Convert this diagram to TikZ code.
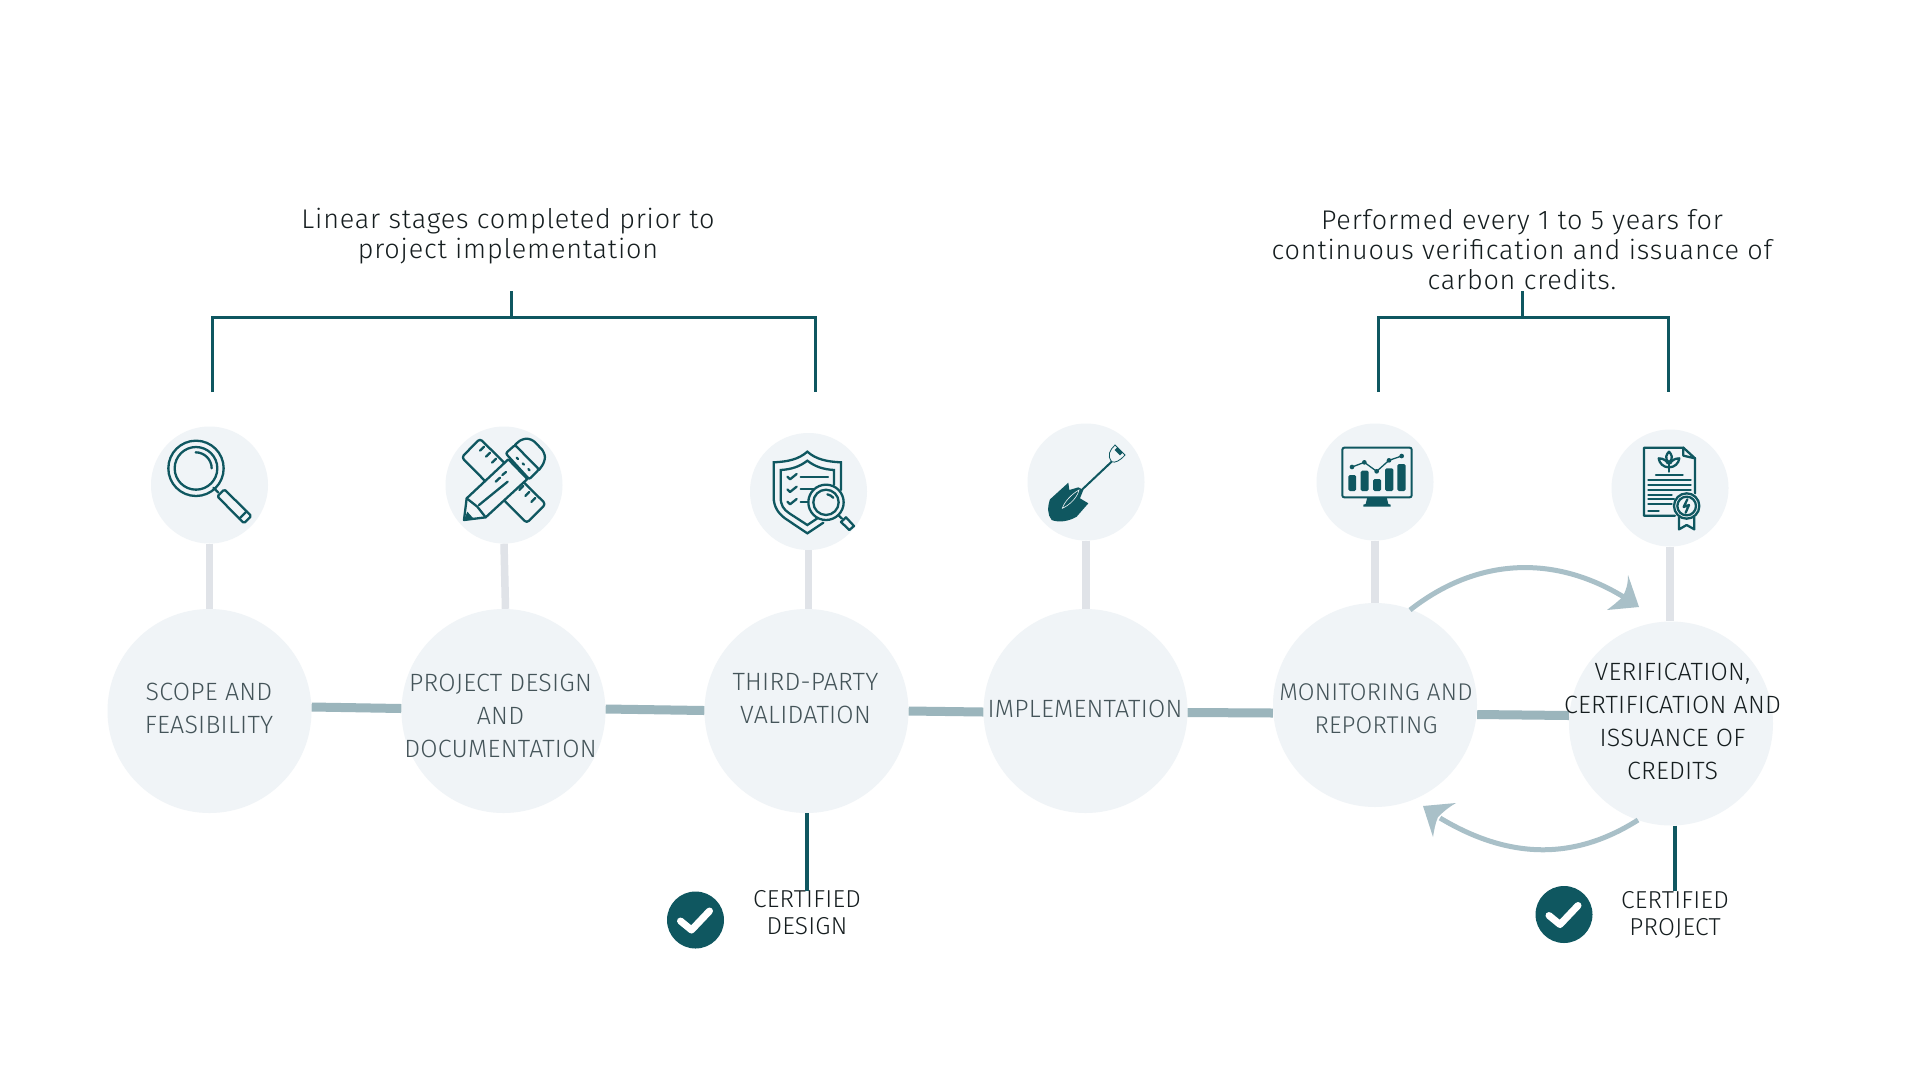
\documentclass[tikz,border=0pt]{standalone}
\usepackage{fontspec}
\setmainfont[UprightFont=* Light,LetterSpace=3]{Fira Sans}
\newfontfamily\capsf[UprightFont=* Light,LetterSpace=1]{Fira Sans}
\usetikzlibrary{calc}
\definecolor{teal}{HTML}{0F5760}
\definecolor{bgc}{HTML}{F0F4F7}
\definecolor{stemc}{HTML}{E0E3E8}
\definecolor{linkc}{HTML}{9BB5BC}
\definecolor{arrc}{HTML}{A9C0C8}
\definecolor{lab}{HTML}{445459}
\definecolor{ink}{HTML}{151D1F}
\tikzset{
 big/.style={circle,fill=bgc,minimum size=204pt,inner sep=0pt},
 iconbg/.style={circle,fill=bgc,minimum size=117pt,inner sep=0pt},
 stem/.style={draw=stemc,line width=7.5pt},
 link/.style={draw=linkc,line width=9pt},
 brk/.style={draw=teal,line width=3pt},
 cert/.style={draw=teal,line width=4pt},
 curve/.style={draw=arrc,line width=5pt},
 head/.style={fill=arrc},
 lbl/.style={text=lab,font=\capsf\fontsize{25}{33}\selectfont,align=center,inner sep=0pt},
 lbld/.style={text=ink,font=\capsf\fontsize{25}{33}\selectfont,align=center,inner sep=0pt},
 toptxt/.style={text=ink,font=\fontsize{27}{30}\selectfont,align=center,inner sep=0pt},
 certt/.style={text=ink,font=\capsf\fontsize{24.5}{27}\selectfont,align=center,inner sep=0pt},
 checkc/.style={circle,fill=teal,minimum size=57pt,inner sep=0pt},
 ic/.style={draw=teal,line width=2.3pt,line cap=round,line join=round},
 ict/.style={draw=teal,line width=2.3pt,line cap=round,line join=round,fill=bgc},
 icf/.style={fill=teal},
 zm/.style={x=0.33333pt,y=-0.33333pt},
}
\begin{document}
\begin{tikzpicture}[x=1pt,y=-1pt]
\useasboundingbox (0,0) rectangle (1920,1080);
\fill[white] (0,0) rectangle (1920,1080);
% circles
\node[big] (c1) at (209.5,711) {};
\node[big] (c2) at (503.5,711) {};
\node[big] (c3) at (806.5,711) {};
\node[big] (c4) at (1085.5,711) {};
\node[big] (c5) at (1375,705) {};
\node[big] (c6) at (1671,723.5) {};
\node[iconbg] (i1) at (209.5,485) {};
\node[iconbg] (i2) at (504,485) {};
\node[iconbg] (i3) at (808.5,491.5) {};
\node[iconbg] (i4) at (1086,482) {};
\node[iconbg] (i5) at (1375,482) {};
\node[iconbg] (i6) at (1670,488) {};
% stems
\draw[stem] (i1.south) -- (i1.south |- c1.north);
\draw[stem] (i2.south) -- ([xshift=2pt]c2.north);
\draw[stem] (i3.south) -- (i3.south |- c3.north);
\draw[stem] (i4.south) -- (i4.south |- c4.north);
\draw[stem] (i5.south) -- (i5.south |- c5.north);
\draw[stem] (i6.south) -- (i6.south |- c6.north);
% links
\draw[link] ([yshift=4pt]c1.east) -- ([yshift=2.5pt]c2.west);
\draw[link] ([yshift=2pt]c2.east) -- ([yshift=.5pt]c3.west);
\draw[link] ([yshift=0pt]c3.east) -- ([yshift=-1pt]c4.west);
\draw[link] ([yshift=-1.5pt]c4.east) -- ([yshift=-8pt]c5.west);
\draw[link] ([yshift=-9.5pt]c5.east) -- ([yshift=8pt]c6.west);
% labels
\node[lbl] (t1) at (209,708.5) {SCOPE AND\\FEASIBILITY};
\node[lbl] (t2) at (500.5,716) {PROJECT DESIGN\\AND\\DOCUMENTATION};
\node[lbl] (t3) at (805.5,699) {THIRD-PARTY\\VALIDATION};
\node[lbl] (t4) at (1085,709) {IMPLEMENTATION};
\node[lbl,font=\capsf\fontsize{24.2}{33}\selectfont] (t5) at (1376,709) {MONITORING AND\\REPORTING};
\node[lbld] (t6) at (1672.5,721) {VERIFICATION,\\CERTIFICATION AND\\ISSUANCE OF\\CREDITS};
% top text
\node[toptxt] (h1) at (508,236) {Linear stages completed prior to\\project implementation};
\node[toptxt] (h2) at (1522,249.5) {Performed every 1 to 5 years for\\continuous verification and issuance of\\carbon credits.};
% brackets
\coordinate (b1a) at (212,392); \coordinate (b1b) at (815.5,392); \coordinate (b1s) at (511,291); \coordinate (b1m) at (511,317);
\coordinate (b2a) at (1378,392); \coordinate (b2b) at (1668,392); \coordinate (b2s) at (1522.5,291); \coordinate (b2m) at (1522.5,317);
\draw[brk] (b1a) |- (b1m) -| (b1b);
\draw[brk] (b1s) -- (b1m);
\draw[brk] (b2a) |- (b2m) -| (b2b);
\draw[brk] (b2s) -- (b2m);
% certified
\node[certt] (cd) at (807,913) {CERTIFIED\\DESIGN};
\node[certt] (cp) at (1675,915) {CERTIFIED\\PROJECT};
\draw[cert] (cd.north |- c3.south) -- (cd.north);
\draw[cert] (cp.north |- c6.south) -- (cp.north);
\node[checkc] (k1) at (695.5,920) {};
\node[checkc] (k2) at (1564,914.5) {};
\draw[white,line width=7pt,line cap=round,line join=round] ($(k1)+(-15,1)$) -- ($(k1)+(-4,10)$) -- ($(k1)+(14,-9)$);
\draw[white,line width=7pt,line cap=round,line join=round] ($(k2)+(-15,1)$) -- ($(k2)+(-4,10)$) -- ($(k2)+(14,-9)$);
% curved arrows
\coordinate (a1s) at (1410,610); \coordinate (a1e) at (1630,601);
\draw[curve] (a1s) .. controls (1480,555) and (1560,555) .. (a1e);
\fill[head] (1639,607) -- (1628,575) .. controls (1628,585) and (1626,590) .. (1623,596) .. controls (1618,602) and (1612,606) .. (1607,610) -- cycle;
\coordinate (a2s) at (1638,820); \coordinate (a2e) at (1440,818);
\draw[curve] (a2s) .. controls (1575,860) and (1510,860) .. (a2e);
\fill[head] (1423,806) -- (1456,803) .. controls (1449,807) and (1444,811) .. (1438,817) .. controls (1435,824) and (1434,831) .. (1433,837) -- cycle;
% ---- icons zoom1
\begin{scope}[shift={(130,410)},zm]
 \draw[ic] (198,175) circle (83);
 \draw[ic] (198,175) circle (64);
 \draw[ic] (197,127) arc (-90:0:48);
 \draw[ic] (250,233) -- (265,248);
 \draw[ic,rounded corners=1.5pt] (283,238) -- (364,318) -- (342,340) -- (262,259) -- cycle;
 \draw[ic] (350,304) -- (328,326);
 % ruler
 \draw[ic,rounded corners=3pt] (1050,86) -- (995,142) -- (1190,339) -- (1247,282) -- cycle;
 \foreach \a/\b in {1062/110,1080/128,1098/146,1180/228,1198/246,1216/264}
   \draw[ic] (\a,\b) -- ({\a-12},{\b+12});
 % pencil
 \draw[ict] (1010,265) -- (1135,148) -- (1192,207) -- (1067,322) -- (1002,330) -- cycle;
 \draw[ict,rounded corners=5pt] (1155,105) -- (1175,86) -- (1205,86) -- (1245,128) -- (1245,155) -- (1227,180);
 \draw[ict,rounded corners=2pt] (1127,130) -- (1155,105) -- (1227,178) -- (1198,208) -- cycle;
 \foreach \a/\b in {1160/143,1178/160,1195/177}
   \draw[ic] (\a,\b) -- ({\a+4},{\b+4});
 \draw[ic] (1010,265) -- (1042,290) -- (1067,322);
 \draw[ic] (1097,215) -- (1110,203); \draw[ic] (1117,195) -- (1128,186);
 \draw[ic] (1047,285) -- (1133,215);
 \fill[teal] (1002,330) -- (1012,305) -- (1030,325) -- cycle;
\end{scope}
% zoom2
\begin{scope}[shift={(730,410)},zm]
 \draw[ic,line join=miter] (333,240) -- (333,157) .. controls (290,155) and (258,148) .. (232,125) .. controls (206,148) and (174,155) .. (131,157) -- (131,262) .. controls (131,290) and (145,310) .. (165,325) -- (232,370) -- (280,338);
 \draw[ic,line join=miter] (312,225) -- (312,180) .. controls (280,178) and (255,170) .. (232,152) .. controls (209,170) and (184,178) .. (152,180) -- (152,262) .. controls (152,285) and (160,298) .. (178,310) -- (232,345) -- (262,325);
 \foreach \y in {200,238,275}{
  \draw[ic] (172,{\y}) -- (180,{\y+8}) -- (200,{\y-8});
 }
 \draw[ic] (212,200) -- (294,200);
 \draw[ic] (212,238) -- (272,238);
 \draw[ic] (212,275) -- (235,275);
 \draw[ict] (288,277) circle (53);
 \draw[ic] (288,277) circle (38);
 \draw[ic] (292,253) arc (-80:-40:30);
 \draw[ic] (325,315) -- (336,326);
 \draw[ic] (348,322) -- (372,348) -- (358,360) -- (333,336) -- cycle;
 % shovel
 \fill[teal] (1015,218) -- (1018,240) -- (1045,232) -- (1060,240) -- (1050,265) -- (1075,280) -- (1040,320) .. controls (1015,335) and (985,338) .. (965,330) .. controls (952,315) and (952,290) .. (960,268) -- cycle;
 \draw[bgc,line width=.6pt] (997,295) .. controls (1003,275) and (1025,252) .. (1047,240) .. controls (1043,258) and (1025,282) .. (997,295) -- cycle;
 \draw[teal,line width=2pt] (1055,240) -- (1145,155);
 \draw[teal,line width=.8pt] (1145,155) .. controls (1130,135) and (1140,120) .. (1155,105) -- (1185,135) .. controls (1170,152) and (1155,160) .. (1145,155);
 \fill[teal] (1162,112) -- (1178,128) -- (1170,136) -- (1154,120) -- cycle;
\end{scope}
% zoom3
\begin{scope}[shift={(1290,410)},zm]
 \draw[teal,line width=2pt,rounded corners=2pt] (157,113) rectangle (365,262);
 \foreach \a/\b/\t in {175/198/195,212/236/182,249/273/207,285/310/175,322/347/162}
  \fill[teal,rounded corners=1.5pt] (\a,243) rectangle (\b,\t);
 \draw[teal,line width=1.3pt] (186,171) -- (223,157) -- (260,184) -- (297,151) -- (335,138);
 \foreach \p in {(186,171),(223,157),(260,184),(297,151),(335,138)}
  \fill[teal] \p circle (7);
 \fill[teal] (232,262) -- (290,262) -- (295,282) -- (302,284) -- (302,290) -- (220,290) -- (220,284) -- (227,282) -- cycle;
 % certificate
 \draw[ic] (1155,317) -- (1062,317) -- (1062,113) -- (1180,113) -- (1215,145) -- (1215,250);
 \draw[ic] (1180,113) -- (1180,137) -- (1215,145);
 \draw[ic] (1137,185) -- (1137,158);
 \draw[ic] (1137,158) .. controls (1122,145) and (1130,132) .. (1137,125) .. controls (1144,132) and (1152,145) .. (1137,158);
 \draw[ic] (1137,172) .. controls (1120,172) and (1108,160) .. (1106,145) .. controls (1120,145) and (1130,152) .. (1133,160);
 \draw[ic] (1137,172) .. controls (1154,172) and (1166,160) .. (1168,145) .. controls (1154,145) and (1144,152) .. (1141,160);
 \draw[ic] (1098,195) -- (1178,195);
 \foreach \y in {210,225,240} \draw[ic] (1075,\y) -- (1202,\y);
 \draw[ic] (1075,254) -- (1145,254);
 \draw[ic] (1075,268) -- (1152,268);
 \draw[ic] (1075,282) -- (1145,282);
 \draw[ic] (1075,302) -- (1106,302);
 \draw[ic] (1167,322) -- (1167,358) -- (1190,345) -- (1213,358) -- (1213,322);
 \draw[ict] (1190,288) circle (38);
 \draw[ic] (1190,288) circle (28);
 \draw[ic] (1192,268) -- (1181,291) -- (1197,285) -- (1187,308);
\end{scope}
\end{tikzpicture}
\end{document}
